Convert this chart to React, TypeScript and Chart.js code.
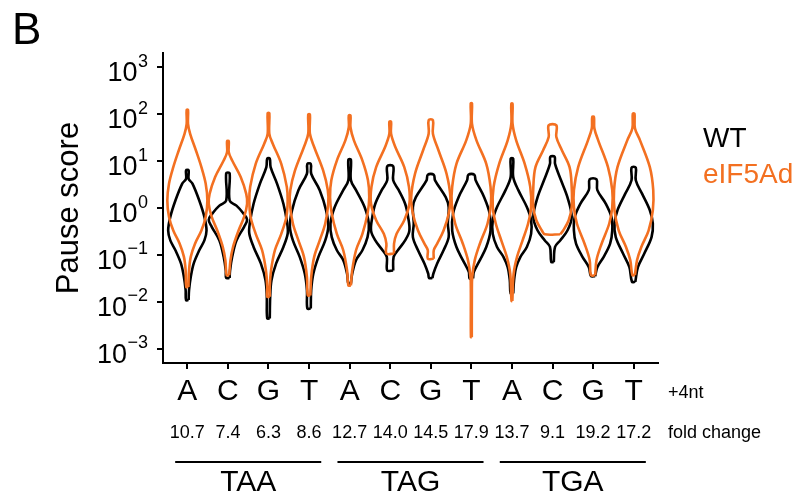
import { useEffect, useRef } from "react";
import { Chart, registerables } from "chart.js";

Chart.register(...registerables);

const FONT = "'Liberation Sans', Arial, Helvetica, sans-serif";

// +4nt nucleotide (x categories)
const nucleotides = ["A", "C", "G", "T", "A", "C", "G", "T", "A", "C", "G", "T"];
// fold change labels under each category
const foldChanges = ["10.7", "7.4", "6.3", "8.6", "12.7", "14.0", "14.5", "17.9", "13.7", "9.1", "19.2", "17.2"];
// stop codon groups (4 categories each)
const stopCodons = ["TAA", "TAG", "TGA"];
// y tick exponents (10^e)
const yExponents = [-3, -2, -1, 0, 1, 2, 3];
const seriesNames = ["WT", "eIF5Ad"];
const seriesColors = ["#000000", "#F37021"];

// Violin profiles: [log10(pause score), half width in category units], bottom to top
const wtViolins: number[][][] = [
  [[-1.96, 0.03], [-1.75, 0.04], [-1.47, 0.08], [-1.18, 0.15], [-0.9, 0.28], [-0.69, 0.4], [-0.48, 0.45], [-0.19, 0.4], [0.16, 0.28], [0.52, 0.12], [0.62, 0.03], [0.8, 0.03]],
  [[-1.49, 0.04], [-1.33, 0.05], [-1.04, 0.1], [-0.69, 0.2], [-0.4, 0.38], [-0.25, 0.45], [-0.1, 0.35], [0.05, 0.2], [0.16, 0.04], [0.74, 0.04]],
  [[-2.35, 0.03], [-1.89, 0.04], [-1.54, 0.07], [-1.18, 0.18], [-0.83, 0.35], [-0.55, 0.45], [-0.33, 0.44], [0.09, 0.35], [0.52, 0.2], [0.87, 0.05], [1.05, 0.03]],
  [[-2.14, 0.04], [-1.75, 0.05], [-1.4, 0.1], [-1.04, 0.22], [-0.69, 0.38], [-0.4, 0.45], [-0.05, 0.4], [0.38, 0.25], [0.73, 0.05], [0.94, 0.04]],
  [[-1.61, 0.03], [-1.4, 0.06], [-1.11, 0.15], [-0.9, 0.3], [-0.62, 0.42], [-0.33, 0.45], [0.02, 0.35], [0.38, 0.15], [0.59, 0.03], [1.03, 0.03]],
  [[-1.33, 0.07], [-1.04, 0.08], [-0.9, 0.18], [-0.69, 0.35], [-0.48, 0.45], [-0.19, 0.42], [0.09, 0.35], [0.38, 0.2], [0.59, 0.07], [0.89, 0.07]],
  [[-1.49, 0.04], [-1.4, 0.06], [-1.18, 0.15], [-0.9, 0.3], [-0.62, 0.42], [-0.33, 0.4], [0.02, 0.42], [0.23, 0.35], [0.59, 0.1], [0.71, 0.07]],
  [[-1.5, 0.04], [-1.36, 0.06], [-1.11, 0.2], [-0.83, 0.35], [-0.48, 0.45], [-0.12, 0.43], [0.23, 0.3], [0.59, 0.1], [0.71, 0.07]],
  [[-1.82, 0.03], [-1.54, 0.05], [-1.26, 0.1], [-1.04, 0.2], [-0.83, 0.35], [-0.55, 0.45], [-0.26, 0.45], [0.02, 0.35], [0.38, 0.15], [0.66, 0.03], [1.05, 0.03]],
  [[-1.15, 0.03], [-0.83, 0.06], [-0.69, 0.18], [-0.48, 0.35], [-0.19, 0.45], [0.23, 0.35], [0.59, 0.2], [0.94, 0.06], [1.09, 0.05]],
  [[-1.45, 0.05], [-1.26, 0.1], [-1.04, 0.25], [-0.76, 0.4], [-0.48, 0.45], [-0.19, 0.43], [0.09, 0.3], [0.38, 0.1], [0.61, 0.08]],
  [[-1.57, 0.04], [-1.26, 0.1], [-0.97, 0.25], [-0.62, 0.42], [-0.33, 0.45], [-0.05, 0.38], [0.3, 0.2], [0.59, 0.05], [0.86, 0.05]],
];

const eifViolins: number[][][] = [
  [[-1.68, 0.025], [-1.33, 0.04], [-1.04, 0.08], [-0.76, 0.18], [-0.48, 0.33], [-0.19, 0.43], [0.16, 0.47], [0.52, 0.43], [0.87, 0.33], [1.23, 0.2], [1.58, 0.066], [1.79, 0.016], [2.09, 0.016]],
  [[-1.43, 0.03], [-1.11, 0.06], [-0.83, 0.12], [-0.48, 0.25], [-0.19, 0.38], [0.09, 0.45], [0.3, 0.43], [0.66, 0.3], [1.01, 0.1], [1.19, 0.02], [1.42, 0.02]],
  [[-1.89, 0.03], [-1.68, 0.03], [-1.33, 0.06], [-0.9, 0.15], [-0.55, 0.3], [-0.19, 0.42], [0.16, 0.45], [0.45, 0.43], [0.94, 0.3], [1.37, 0.1], [1.58, 0.02], [2.02, 0.02]],
  [[-1.86, 0.03], [-1.47, 0.05], [-1.04, 0.12], [-0.69, 0.25], [-0.33, 0.38], [0.09, 0.45], [0.38, 0.44], [0.8, 0.33], [1.3, 0.12], [1.58, 0.02], [1.99, 0.02]],
  [[-1.65, 0.03], [-1.33, 0.06], [-0.9, 0.15], [-0.55, 0.3], [-0.12, 0.42], [0.23, 0.46], [0.59, 0.43], [1.01, 0.3], [1.44, 0.1], [1.72, 0.02], [1.97, 0.02]],
  [[-0.97, 0.09], [-0.76, 0.09], [-0.55, 0.15], [-0.26, 0.33], [0.09, 0.45], [0.45, 0.44], [0.87, 0.33], [1.3, 0.12], [1.58, 0.02], [1.84, 0.02]],
  [[-1.08, 0.07], [-0.9, 0.07], [-0.76, 0.15], [-0.48, 0.3], [-0.12, 0.42], [0.23, 0.46], [0.73, 0.37], [1.23, 0.18], [1.58, 0.05], [1.87, 0.05]],
  [[-2.75, 0.01], [-1.8, 0.012], [-1.47, 0.02], [-1.11, 0.08], [-0.76, 0.2], [-0.33, 0.38], [0.09, 0.46], [0.45, 0.45], [0.94, 0.35], [1.44, 0.12], [1.79, 0.015], [2.23, 0.015]],
  [[-1.98, 0.01], [-1.4, 0.04], [-1.04, 0.12], [-0.69, 0.25], [-0.33, 0.38], [0.02, 0.45], [0.45, 0.43], [0.94, 0.3], [1.44, 0.1], [1.79, 0.015], [2.22, 0.015]],
  [[-0.56, 0.18], [-0.48, 0.25], [-0.26, 0.38], [0.02, 0.45], [0.45, 0.45], [0.87, 0.4], [1.23, 0.22], [1.51, 0.09], [1.76, 0.09]],
  [[-1.43, 0.05], [-1.11, 0.08], [-0.76, 0.2], [-0.33, 0.38], [0.02, 0.45], [0.38, 0.45], [0.87, 0.35], [1.44, 0.12], [1.7, 0.03], [1.94, 0.02]],
  [[-1.43, 0.03], [-1.11, 0.08], [-0.83, 0.18], [-0.48, 0.35], [-0.05, 0.45], [0.38, 0.46], [0.87, 0.38], [1.44, 0.15], [1.7, 0.03], [2.01, 0.02]],
];

const VIOLIN_SCALE = 1.05;

function outline(profile: number[][], center: number) {
  const right = profile.map(([l, w]) => ({ x: center + w * VIOLIN_SCALE, y: Math.pow(10, l) }));
  const left = profile
    .slice()
    .reverse()
    .map(([l, w]) => ({ x: center - w * VIOLIN_SCALE, y: Math.pow(10, l) }));
  return [...right, ...left, right[0]];
}

const annotationPlugin = {
  id: "annotations",
  afterDraw(chart: any) {
    const ctx: CanvasRenderingContext2D = chart.ctx;
    const xs = chart.scales.x;
    const ys = chart.scales.y;
    const area = chart.chartArea;
    ctx.save();
    ctx.fillStyle = "#000";
    ctx.textBaseline = "alphabetic";

    // panel letter
    ctx.font = `44px ${FONT}`;
    ctx.textAlign = "left";
    ctx.fillText("B", 12, 44);

    // y tick labels 10^e
    const labelRight = area.left - 15;
    yExponents.forEach((e) => {
      const y = ys.getPixelForValue(Math.pow(10, e));
      const sup = e < 0 ? "\u2212" + Math.abs(e) : String(e);
      ctx.font = `18px ${FONT}`;
      const sw = ctx.measureText(sup).width;
      ctx.textAlign = "left";
      ctx.fillText(sup, labelRight - sw, y - 0.5);
      ctx.font = `27px ${FONT}`;
      ctx.textAlign = "right";
      ctx.fillText("10", labelRight - sw - 0.5, y + 14);
    });

    // y axis title
    ctx.save();
    ctx.translate(78, (area.top + area.bottom) / 2);
    ctx.rotate(-Math.PI / 2);
    ctx.font = `31px ${FONT}`;
    ctx.textAlign = "center";
    ctx.fillText("Pause score", 0, 0);
    ctx.restore();

    // x labels and fold changes
    ctx.textAlign = "center";
    nucleotides.forEach((n, i) => {
      const x = xs.getPixelForValue(i + 1);
      ctx.font = `30px ${FONT}`;
      ctx.fillText(n, x, area.bottom + 37);
      ctx.font = `18px ${FONT}`;
      ctx.fillText(foldChanges[i], x, area.bottom + 75);
    });
    ctx.textAlign = "left";
    ctx.font = `18px ${FONT}`;
    ctx.fillText("+4nt", 668, area.bottom + 35);
    ctx.fillText("fold change", 668, area.bottom + 75);

    // codon group bars
    ctx.strokeStyle = "#000";
    ctx.lineWidth = 2;
    stopCodons.forEach((c, g) => {
      const x1 = xs.getPixelForValue(g * 4 + 1 - 0.3);
      const x2 = xs.getPixelForValue(g * 4 + 4 + 0.3);
      const y = area.bottom + 99;
      ctx.beginPath();
      ctx.moveTo(x1, y);
      ctx.lineTo(x2, y);
      ctx.stroke();
      ctx.font = `30px ${FONT}`;
      ctx.textAlign = "center";
      ctx.fillText(c, (x1 + x2) / 2, area.bottom + 128);
    });

    // legend
    ctx.textAlign = "left";
    ctx.font = `28px ${FONT}`;
    seriesNames.forEach((s, k) => {
      ctx.fillStyle = seriesColors[k];
      ctx.fillText(s, 703, 147 + k * 36);
    });
    ctx.restore();
  },
};

export default function App() {
  const ref = useRef<HTMLCanvasElement>(null);
  useEffect(() => {
    const canvas = ref.current;
    if (!canvas) return;
    const datasets: any[] = [];
    eifViolins.forEach((p, i) => {
      datasets.push({
        label: seriesNames[1],
        data: outline(p, i + 1),
        borderColor: seriesColors[1],
        borderWidth: 2.6,
        showLine: true,
        pointRadius: 0,
        tension: 0.35,
        fill: false,
      });
    });
    wtViolins.forEach((p, i) => {
      datasets.push({
        label: seriesNames[0],
        data: outline(p, i + 1),
        borderColor: seriesColors[0],
        borderWidth: 2.6,
        showLine: true,
        pointRadius: 0,
        tension: 0.35,
        fill: false,
      });
    });
    const chart = new Chart(canvas, {
      type: "scatter",
      data: { datasets },
      options: {
        responsive: false,
        animation: false,
        layout: { padding: { top: 53, right: 148, left: 0, bottom: 0 } },
        plugins: { legend: { display: false }, tooltip: { enabled: false } },
        scales: {
          x: {
            type: "linear",
            min: 0.4,
            max: 12.6,
            afterBuildTicks: (s: any) => {
              s.ticks = nucleotides.map((_, i) => ({ value: i + 1 }));
            },
            afterFit: (s: any) => {
              s.height = 136;
            },
            ticks: { display: false },
            grid: { display: true, drawOnChartArea: false, drawTicks: true, tickLength: 6, color: "#000", lineWidth: 2 },
            border: { display: true, color: "#000", width: 2 },
          },
          y: {
            type: "logarithmic",
            min: Math.pow(10, -3.3),
            max: Math.pow(10, 3.3),
            afterBuildTicks: (s: any) => {
              s.ticks = yExponents.map((e) => ({ value: Math.pow(10, e) }));
            },
            afterFit: (s: any) => {
              s.width = 163;
            },
            ticks: { display: false },
            grid: { display: true, drawOnChartArea: false, drawTicks: true, tickLength: 6, color: "#000", lineWidth: 2 },
            border: { display: true, color: "#000", width: 2 },
          },
        },
      },
      plugins: [annotationPlugin],
    });
    return () => chart.destroy();
  }, []);
  return (
    <div style={{ position: "fixed", left: 0, top: 0, width: 806, height: 499, background: "#fff" }}>
      <canvas ref={ref} width={806} height={499} style={{ display: "block" }} />
    </div>
  );
}
